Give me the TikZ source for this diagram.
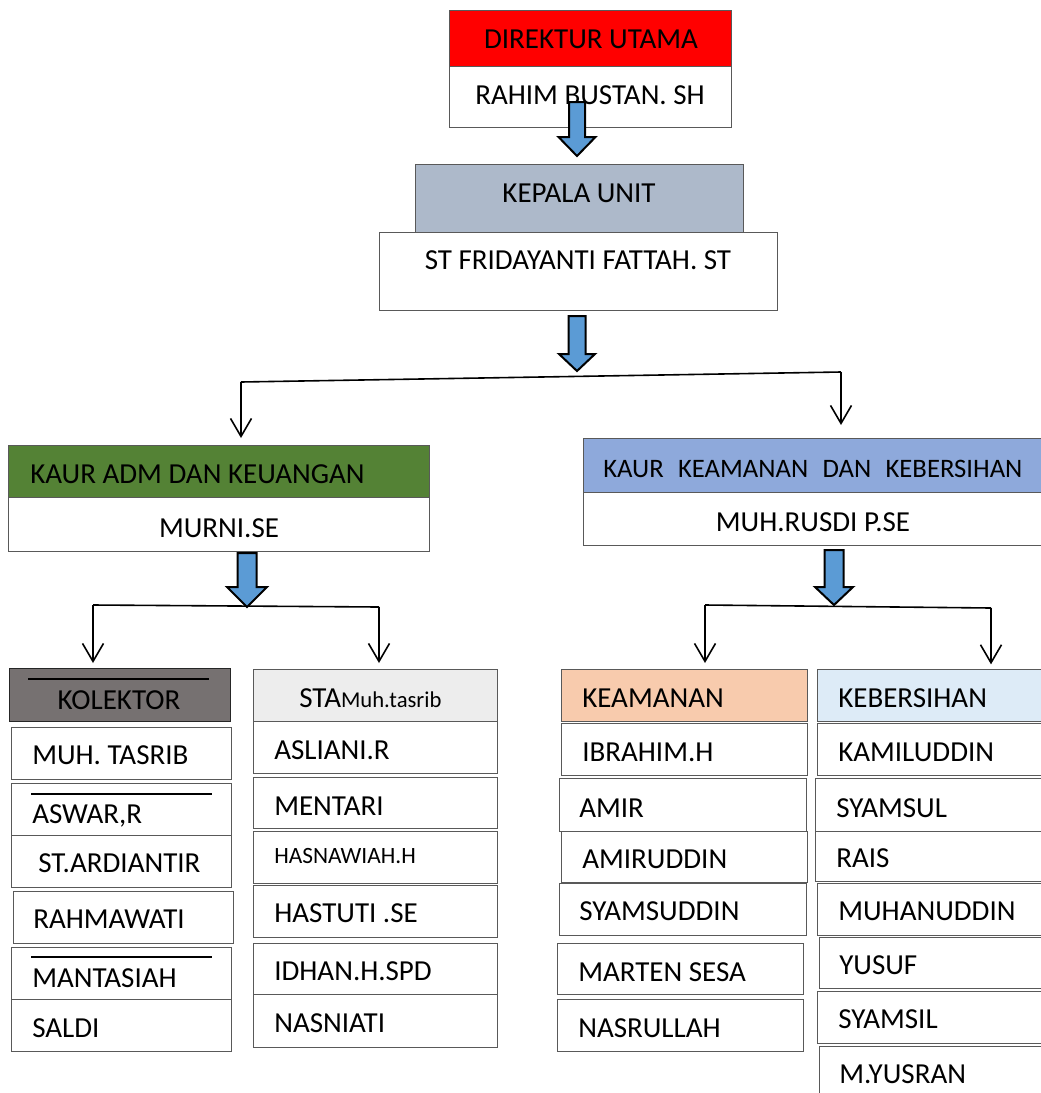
\documentclass[tikz,border=0pt]{standalone}
\usepackage{fontspec}
\setmainfont{Carlito}
\usetikzlibrary{arrows.meta,fit,calc}
\definecolor{redh}{HTML}{FF0000}
\definecolor{kepala}{HTML}{ADB9CA}
\definecolor{admgreen}{HTML}{548235}
\definecolor{kaurblue}{HTML}{8EA9DB}
\definecolor{kolgray}{HTML}{767171}
\definecolor{stagray}{HTML}{EDEDED}
\definecolor{keaorange}{HTML}{F8CBAD}
\definecolor{kebblue}{HTML}{DDEBF7}
\definecolor{arrblue}{HTML}{5B9BD5}
\newcommand\blockarrow[6]{\draw[blk] ({#1-#5},#2) -- ({#1+#5},#2) -- ({#1+#5},#3) -- ({#1+#6},#3) -- (#1,#4) -- ({#1-#6},#3) -- ({#1-#5},#3) -- cycle;}
\begin{document}
\begin{tikzpicture}[x=0.75pt,y=-0.75pt,font=\fontsize{21.75}{26}\selectfont,
  box/.style={draw=black!65,line width=0.75pt,inner sep=0pt,outer sep=0pt},
  lbl/.style={inner sep=0pt,anchor=base west},
  lblc/.style={inner sep=0pt,anchor=base},
  tree/.style={line width=1.2pt,black},
  arr/.style={tree,-{Straight Barb[length=13.5pt,width=15.75pt,line width=1.2pt]}},
  blk/.style={fill=arrblue,draw=black,line width=1.5pt,line join=miter},
  overl/.style={line width=1.6pt,black}]
\useasboundingbox (0,0) rectangle (1040,1093);
\fill[white] (0,0) rectangle (1040,1093);

% top
\node[box,fill=redh,fit={(449,10)(731,66)}] (dir) {};
\node[lblc] (dirT) at (591,48) {DIREKTUR UTAMA};
\node[box,fit={(449,66)(731,127)}] (rahim) {};
\node[lblc] (rahimT) at (590,104) {RAHIM BUSTAN. SH};
\node[box,fill=kepala,fit={(415,164)(743,232)}] (kep) {};
\node[lblc] (kepT) at (579,202) {KEPALA UNIT};
\node[box,fit={(379,232)(777,310)}] (fri) {};
\node[lblc] (friT) at (578,269) {ST FRIDAYANTI FATTAH. ST};

% second level
\node[box,fill=admgreen,fit={(8,445)(429,497)}] (kadm) {};
\node[lbl] (kadmT) at (30,483) {KAUR ADM DAN KEUANGAN};
\node[box,fit={(8,497)(429,551)}] (murni) {};
\node[lblc] (murniT) at (219,537) {MURNI.SE};
\node[box,fill=kaurblue,fit={(583,438)(1070,492)}] (kkea) {};
\node[lbl] (kkeaT) at (603,477) {\fontsize{20}{24}\selectfont\hbox to 314.25pt{KAUR\hfill KEAMANAN\hfill DAN\hfill KEBERSIHAN}};
\node[box,fit={(583,492)(1070,545)}] (rusdi) {};
\node[lblc] (rusdiT) at (813,531) {MUH.RUSDI P.SE};

% column 1
\node[box,fill=kolgray,draw=black!85,fit={(9,668)(230,721)}] (kol) {};
\draw[overl] (28,679) -- (209,679);
\node[lblc] (kolT) at (119,709) {KOLEKTOR};
\node[box,fit={(11,727)(231,779)}] (c1a) {};
\node[lbl] (c1aT) at (32,764) {MUH. TASRIB};
\node[box,fit={(11,783)(231,835)}] (c1b) {};
\draw[overl] (31,794) -- (212,794);
\node[lbl] (c1bT) at (32,823) {ASWAR,R};
\node[box,fit={(11,835)(231,887)}] (c1c) {};
\node[lbl] (c1cT) at (38,872) {ST.ARDIANTIR};
\node[box,fit={(13,891)(233,943)}] (c1d) {};
\node[lbl] (c1dT) at (33,928) {RAHMAWATI};
\node[box,fit={(11,947)(231,999)}] (c1e) {};
\draw[overl] (31,957) -- (212,957);
\node[lbl] (c1eT) at (32,987) {MANTASIAH};
\node[box,fit={(11,999)(231,1051)}] (c1f) {};
\node[lbl] (c1fT) at (32,1037) {SALDI};

% column 2
\node[box,fill=stagray,fit={(253,669)(497,721)}] (sta) {};
\node[lbl] (staT) at (299,707) {STA{\fontsize{17}{20}\selectfont Muh.tasrib}};
\node[box,fit={(253,721)(497,773)}] (c2a) {};
\node[lbl] (c2aT) at (274,759) {ASLIANI.R};
\node[box,fit={(253,777)(497,828)}] (c2b) {};
\node[lbl] (c2bT) at (274,815) {MENTARI};
\node[box,fit={(253,831)(497,883)}] (c2c) {};
\node[lbl] (c2cT) at (274,863) {\fontsize{17.5}{21}\selectfont HASNAWIAH.H};
\node[box,fit={(253,885)(497,937)}] (c2d) {};
\node[lbl] (c2dT) at (274,922) {HASTUTI .SE};
\node[box,fit={(253,943)(497,994)}] (c2e) {};
\node[lbl] (c2eT) at (274,980) {IDHAN.H.SPD};
\node[box,fit={(253,994)(497,1047)}] (c2f) {};
\node[lbl] (c2fT) at (274,1032) {NASNIATI};

% column 3
\node[box,fill=keaorange,fit={(561,669)(807,721)}] (kea) {};
\node[lbl] (keaT) at (582,707) {KEAMANAN};
\node[box,fit={(561,723)(807,775)}] (c3a) {};
\node[lbl] (c3aT) at (582,761) {IBRAHIM.H};
\node[box,fit={(559,778)(806,831)}] (c3b) {};
\node[lbl] (c3bT) at (579,817) {AMIR};
\node[box,fit={(561,831)(807,882)}] (c3c) {};
\node[lbl] (c3cT) at (582,868) {AMIRUDDIN};
\node[box,fit={(559,883)(806,935)}] (c3d) {};
\node[lbl] (c3dT) at (579,920) {SYAMSUDDIN};
\node[box,fit={(557,943)(803,994)}] (c3e) {};
\node[lbl] (c3eT) at (578,981) {MARTEN SESA};
\node[box,fit={(557,999)(803,1051)}] (c3f) {};
\node[lbl] (c3fT) at (578,1037) {NASRULLAH};

% column 4
\node[box,fill=kebblue,fit={(817,669)(1070,721)}] (keb) {};
\node[lbl] (kebT) at (838,707) {KEBERSIHAN};
\node[box,fit={(817,723)(1070,775)}] (c4a) {};
\node[lbl] (c4aT) at (838,761) {KAMILUDDIN};
\node[box,fit={(815,778)(1070,831)}] (c4b) {};
\node[lbl] (c4bT) at (836,817) {SYAMSUL};
\node[box,fit={(815,831)(1070,881)}] (c4c) {};
\node[lbl] (c4cT) at (836,867) {RAIS};
\node[box,fit={(817,883)(1070,935)}] (c4d) {};
\node[lbl] (c4dT) at (838,920) {MUHANUDDIN};
\node[box,fit={(819,937)(1070,988)}] (c4e) {};
\node[lbl] (c4eT) at (839,974) {YUSUF};
\node[box,fit={(817,991)(1070,1043)}] (c4f) {};
\node[lbl] (c4fT) at (838,1028) {SYAMSIL};
\node[box,fit={(819,1046)(1070,1110)}] (c4g) {};
\node[lbl] (c4gT) at (839,1083) {M.YUSRAN};

% tree connectors
\coordinate (j1L) at (241,382);
\coordinate (j1R) at (841,372);
\draw[tree] (j1L) -- (j1R);
\draw[arr,shorten >=5.25pt] (j1L) -- (j1L |- kadm.north);
\draw[arr,shorten >=9.75pt] (j1R) -- (j1R |- kkea.north);

\coordinate (j2L) at (93,605);
\coordinate (j2R) at (379,607);
\draw[tree] (j2L) -- (j2R);
\draw[arr,shorten >=3.75pt] (j2L) -- (j2L |- kol.north);
\draw[arr,shorten >=4.5pt] (j2R) -- (j2R |- sta.north);

\coordinate (j3L) at (705,605);
\coordinate (j3R) at (991,608);
\draw[tree] (j3L) -- (j3R);
\draw[arr,shorten >=4.5pt] (j3L) -- (j3L |- kea.north);
\draw[arr,shorten >=3.5pt] (j3R) -- (j3R |- keb.north);

% block arrows
\blockarrow{577}{102}{137}{156}{8}{18.5}
\blockarrow{577}{316}{354}{371}{8.5}{18}
\blockarrow{247}{553}{587}{607}{9.5}{20}
\blockarrow{834}{550}{587}{605}{9.5}{19}
\end{tikzpicture}
\end{document}
